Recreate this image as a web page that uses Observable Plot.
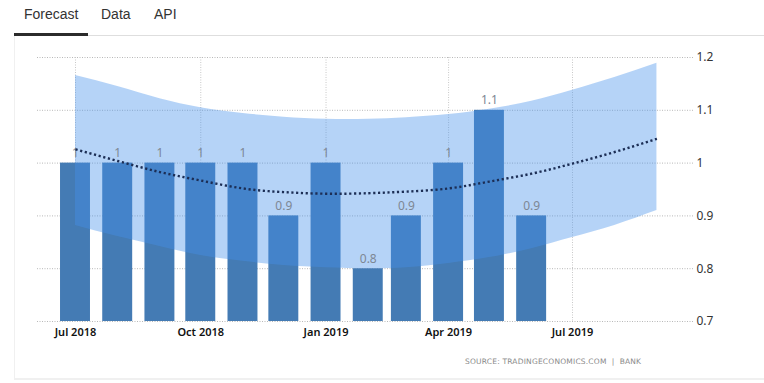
<!DOCTYPE html>
<html>
<head>
<meta charset="utf-8">
<script src="https://cdn.jsdelivr.net/npm/d3@7"></script>
<script src="https://cdn.jsdelivr.net/npm/@observablehq/plot@0.6"></script>
<style>
  html, body { margin: 0; padding: 0; background: #fff; width: 764px; height: 383px; overflow: hidden; }
  #page { position: relative; width: 764px; height: 383px; }
  .tab { position: absolute; top: 6px; font-family: "Liberation Sans", Arial, sans-serif; font-size: 14px; color: #333; }
  #underline { position: absolute; left: 14px; top: 33px; width: 74px; height: 3px; background: #2b2b2b; }
  #hline { position: absolute; left: 88px; top: 35px; width: 676px; height: 1px; background: #dedede; }
  #panel { position: absolute; left: 14px; top: 36px; width: 760px; height: 342px; border-left: 1px solid #f0f0f0; border-bottom: 2px solid #f0f0f0; }
  #chart { position: absolute; left: 0; top: 40px; }
  #source { position: absolute; left: 465px; top: 357px; font-family: "DejaVu Sans", sans-serif; font-size: 7.5px; color: #8a8a8a; letter-spacing: 0.2px; }
</style>
</head>
<body>
<div id="page">
  <div class="tab" style="left:24px">Forecast</div>
  <div class="tab" style="left:101px">Data</div>
  <div class="tab" style="left:154px">API</div>
  <div id="underline"></div>
  <div id="hline"></div>
  <div id="panel"></div>
  <div id="chart"></div>
  <div id="source">SOURCE: TRADINGECONOMICS.COM &nbsp;| &nbsp;BANK</div>
</div>
<script>
// Actual monthly values
const months = ["2018-07-01","2018-08-01","2018-09-01","2018-10-01","2018-11-01","2018-12-01",
                "2019-01-01","2019-02-01","2019-03-01","2019-04-01","2019-05-01","2019-06-01"];
const values = [1, 1, 1, 1, 1, 0.9, 1, 0.8, 0.9, 1, 1.1, 0.9];

// Forecast trend and band
const forecastMonths = ["2018-07-01","2018-08-01","2018-09-01","2018-10-01","2018-11-01","2018-12-01",
                        "2019-01-01","2019-02-01","2019-03-01","2019-04-01","2019-05-01","2019-06-01",
                        "2019-07-01","2019-08-01","2019-09-01"];
const forecastMid   = [1.026, 1.004, 0.983, 0.967, 0.952, 0.945, 0.942, 0.943, 0.946, 0.952, 0.965, 0.980, 0.999, 1.021, 1.046];
const forecastUpper = [1.166, 1.145, 1.122, 1.105, 1.094, 1.087, 1.083, 1.083, 1.086, 1.092, 1.102, 1.117, 1.138, 1.162, 1.189];
const forecastLower = [0.882, 0.861, 0.842, 0.825, 0.814, 0.806, 0.802, 0.800, 0.802, 0.810, 0.821, 0.838, 0.859, 0.882, 0.910];

// Axis ticks
const xTickDates  = ["2018-07-01","2018-10-01","2019-01-01","2019-04-01","2019-07-01"];
const xTickLabels = ["Jul 2018","Oct 2018","Jan 2019","Apr 2019","Jul 2019"];
const yTicks = [0.7, 0.8, 0.9, 1, 1.1, 1.2];

const parse = d3.utcParse("%Y-%m-%d");
const bars = months.map((m, i) => ({date: parse(m), value: values[i]}));
const fc = forecastMonths.map((m, i) => ({date: parse(m), mid: forecastMid[i], hi: forecastUpper[i], lo: forecastLower[i]}));
const xTicks = xTickDates.map(parse);
const labelOf = new Map(xTicks.map((d, i) => [+d, xTickLabels[i]]));

const chart = Plot.plot({
  width: 764,
  height: 315,
  marginLeft: 37,
  marginRight: 71,
  marginTop: 17,
  marginBottom: 34,
  style: {fontFamily: "'Noto Sans', sans-serif", background: "transparent"},
  x: {type: "utc", domain: [parse("2018-07-01"), parse("2019-07-01")], range: [75, 572]},
  y: {domain: [0.7, 1.2], range: [281, 17]},
  marks: [
    Plot.gridY(yTicks, {stroke: "#b8b8b8", strokeOpacity: 1, strokeDasharray: "1,1.5"}),
    Plot.gridX(xTicks, {stroke: "#c8c8c8", strokeOpacity: 1, strokeDasharray: "1,1.5"}),
    Plot.rectY(bars, {
      x1: d => d3.utcDay.offset(d.date, -11),
      x2: d => d3.utcDay.offset(d.date, 11),
      y1: 0.7, y2: "value",
      fill: "#447bb4"
    }),
    Plot.areaY(fc, {x: "date", y1: "lo", y2: "hi", fill: "rgb(70,145,235)", fillOpacity: 0.4, curve: "natural"}),
    Plot.text(bars, {x: "date", y: "value", text: d => String(d.value), lineAnchor: "bottom", dy: -6,
      fill: "#7d8794", fontSize: 12}),
    Plot.line(fc, {x: "date", y: "mid", stroke: "#1c2e55", strokeWidth: 2.4, strokeDasharray: "2.2,2.6",
      strokeLinecap: "butt", curve: "natural"}),
    Plot.axisY(yTicks, {anchor: "right", tickSize: 0, tickPadding: 3, fontSize: 12, fill: "#333",
      tickFormat: d => String(d)}),
    Plot.axisX(xTicks, {anchor: "bottom", tickSize: 0, tickPadding: 7, fontSize: 11, fill: "#111",
      fontWeight: 600, tickFormat: d => labelOf.get(+d)})
  ]
});
document.getElementById("chart").appendChild(chart);
</script>
</body>
</html>
